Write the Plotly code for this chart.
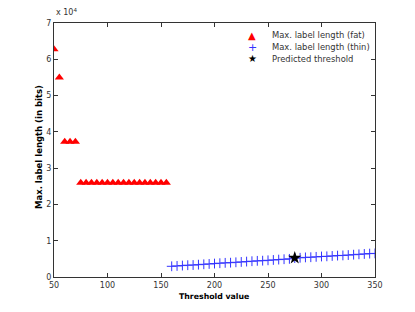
import plotly.graph_objects as go

fat_x = [50, 55, 60, 65, 70] + list(range(75, 160, 5))
fat_y = [62800, 55000, 37300, 37300, 37300] + [26000] * 17

thin_x = list(range(160, 355, 5))
thin_y = [2950, 3050, 3150, 3250, 3300, 3400, 3500, 3600, 3700, 3800,
          3900, 3950, 4050, 4150, 4250, 4350, 4450, 4500, 4600, 4700,
          4800, 4900, 5000, 5200, 5300, 5400, 5450, 5550, 5650, 5700,
          5800, 5900, 5950, 6050, 6150, 6250, 6350, 6450, 6500]

pred_x = [275]
pred_y = [5250]

x_ticks = [50, 100, 150, 200, 250, 300, 350]
y_ticks = [0, 10000, 20000, 30000, 40000, 50000, 60000, 70000]
y_tick_labels = ["0", "1", "2", "3", "4", "5", "6", "7"]

legend_names = ["Max. label length (fat)", "Max. label length (thin)", "Predicted threshold"]
legend_glyphs = ["▲", "+", "★"]
legend_colors = ["#ff0000", "#3333ff", "#000000"]

FONT = "DejaVu Sans"

fig = go.Figure()
fig.add_trace(go.Scatter(x=fat_x, y=fat_y, mode="markers", name=legend_names[0],
                         marker=dict(symbol="triangle-up", size=8, color="#ff0000")))
fig.add_trace(go.Scatter(x=thin_x, y=thin_y, mode="markers", name=legend_names[1],
                         marker=dict(symbol="cross-thin", size=7, color="#0000ff",
                                     line=dict(color="#3333ff", width=1))))
fig.add_trace(go.Scatter(x=pred_x, y=pred_y, mode="markers", name=legend_names[2],
                         marker=dict(symbol="star", size=10, color="#000000")))

axis_common = dict(showgrid=False, zeroline=False, showline=True, mirror="ticks",
                   linecolor="#333333", linewidth=1, ticks="inside", ticklen=4,
                   tickcolor="#333333", automargin=False,
                   tickfont=dict(family=FONT, size=8, color="#333333"))

W, H = 415, 312
L, R, T, B = 54, 40, 23, 35
pw, ph = W - L - R, H - T - B

def px(x):
    return (x - L) / pw

def py(y):
    return (H - B - y) / ph

annotations = [
    dict(text="x 10<sup>4</sup>", x=px(54), y=py(19), xref="paper", yref="paper",
         xanchor="left", yanchor="bottom", showarrow=False,
         font=dict(family=FONT, size=8, color="#333333")),
    dict(text="<b>Threshold value</b>", x=px(214), y=py(296), xref="paper", yref="paper",
         xanchor="center", yanchor="middle", showarrow=False,
         font=dict(family=FONT, size=7.8, color="#000000")),
    dict(text="<b>Max. label length (in bits)</b>", x=px(39), y=py(147), xref="paper", yref="paper",
         xanchor="center", yanchor="middle", showarrow=False, textangle=-90,
         font=dict(family=FONT, size=8.5, color="#000000")),
]
for i, (name, glyph, col) in enumerate(zip(legend_names, legend_glyphs, legend_colors)):
    yy = 35 + 12 * i
    annotations.append(dict(text=glyph, x=px(252), y=py(yy), xref="paper", yref="paper",
                            xanchor="center", yanchor="middle", showarrow=False,
                            font=dict(family=FONT, size=10 if i != 1 else 11, color=col)))
    annotations.append(dict(text=name, x=px(270), y=py(yy), xref="paper", yref="paper",
                            xanchor="left", yanchor="middle", showarrow=False,
                            font=dict(family=FONT, size=8.4, color="#333333")))

fig.update_layout(
    width=W, height=H,
    margin=dict(l=L, r=R, t=T, b=B, autoexpand=False),
    plot_bgcolor="white", paper_bgcolor="white",
    xaxis=dict(range=[50, 350], tickvals=x_ticks, **axis_common),
    yaxis=dict(range=[0, 70000], tickvals=y_ticks, ticktext=y_tick_labels, **axis_common),
    showlegend=False,
    annotations=annotations,
)

fig.write_html("out.html", config={"displayModeBar": False},
               post_script="document.body.style.margin='0';")
